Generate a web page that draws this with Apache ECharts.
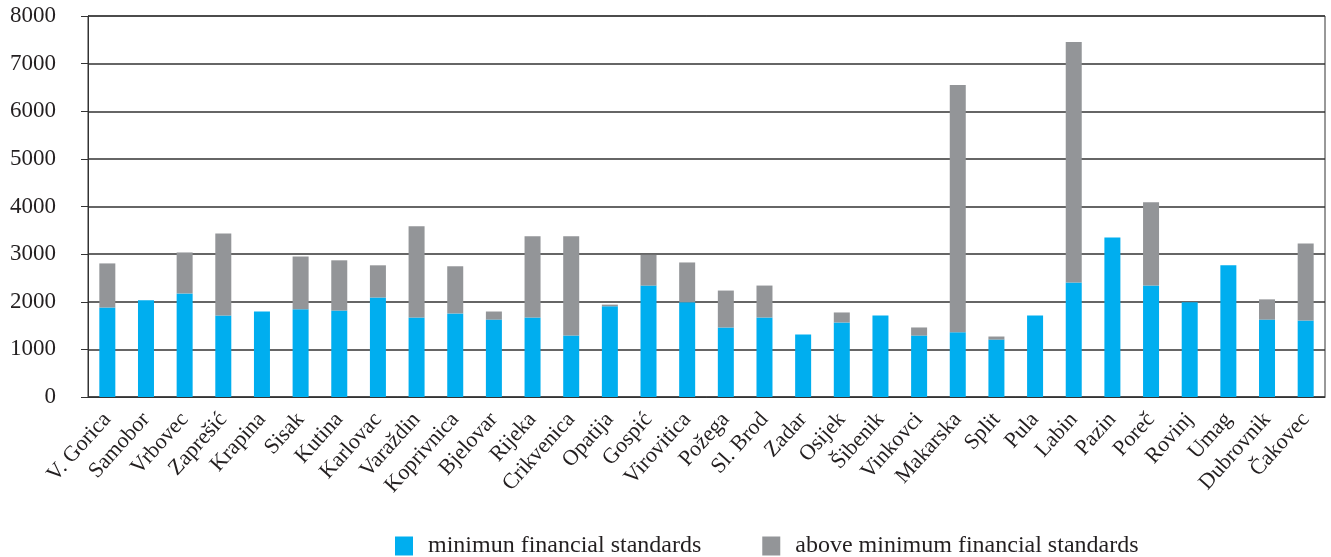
<!DOCTYPE html>
<html>
<head>
<meta charset="utf-8">
<script src="https://cdn.jsdelivr.net/npm/echarts@6/dist/echarts.min.js"></script>
<style>
html,body{margin:0;padding:0;background:#fff;}
#c{width:1331px;height:557px;}
</style>
</head>
<body>
<div id="c"></div>
<script>
const categories = ["V. Gorica","Samobor","Vrbovec","Zaprešić","Krapina","Sisak","Kutina","Karlovac","Varaždin","Koprivnica","Bjelovar","Rijeka","Crikvenica","Opatija","Gospić","Virovitica","Požega","Sl. Brod","Zadar","Osijek","Šibenik","Vinkovci","Makarska","Split","Pula","Labin","Pazin","Poreč","Rovinj","Umag","Dubrovnik","Čakovec"];
const minimumValues = [1880,2030,2175,1710,1795,1840,1815,2090,1670,1755,1625,1670,1290,1905,2340,1990,1460,1670,1310,1565,1710,1290,1360,1205,1710,2405,3350,2340,1990,2765,1625,1605];
const aboveValues = [925,0,860,1725,0,1110,1055,675,1915,990,170,1705,2085,35,645,835,775,670,0,210,0,170,5190,65,0,5050,0,1750,0,0,425,1620];
const yTicks = [0,1000,2000,3000,4000,5000,6000,7000,8000];
const seriesNames = ["minimun financial standards","above minimum financial standards"];

const FONT = "'Liberation Serif','DejaVu Serif',serif";
const TXT = '#231f20';
const chart = echarts.init(document.getElementById('c'));
chart.setOption({
  animation:false,
  textStyle:{fontFamily:FONT,color:TXT},
  grid:{left:88,right:6,top:16,bottom:160,show:true,borderColor:'#333',borderWidth:1},
  legend:{
    top:529,left:390,icon:'rect',itemWidth:18,itemHeight:19,itemGap:61,
    textStyle:{fontFamily:FONT,fontSize:24,color:TXT,padding:[0,0,0,10]},
    data:seriesNames
  },
  xAxis:{
    type:'category',data:categories,
    axisLine:{lineStyle:{color:'#333',width:1}},
    axisTick:{show:false},
    axisLabel:{rotate:48,fontSize:22,fontFamily:FONT,color:TXT,margin:19,interval:0}
  },
  yAxis:{
    type:'value',min:yTicks[0],max:yTicks[yTicks.length-1],interval:1000,
    axisLine:{show:true,lineStyle:{color:'#333',width:1}},
    axisTick:{show:true,length:7,lineStyle:{color:'#333'}},
    axisLabel:{fontSize:23,fontFamily:FONT,color:TXT,margin:32,formatter:function(v){return String(v);}},
    splitLine:{lineStyle:{color:'#333',width:1.5}}
  },
  series:[
    {name:seriesNames[0],type:'bar',stack:'s',data:minimumValues,barWidth:16,itemStyle:{color:'#00aeef'}},
    {name:seriesNames[1],type:'bar',stack:'s',data:aboveValues,barWidth:16,itemStyle:{color:'#939598'}}
  ]
});
</script>
</body>
</html>
